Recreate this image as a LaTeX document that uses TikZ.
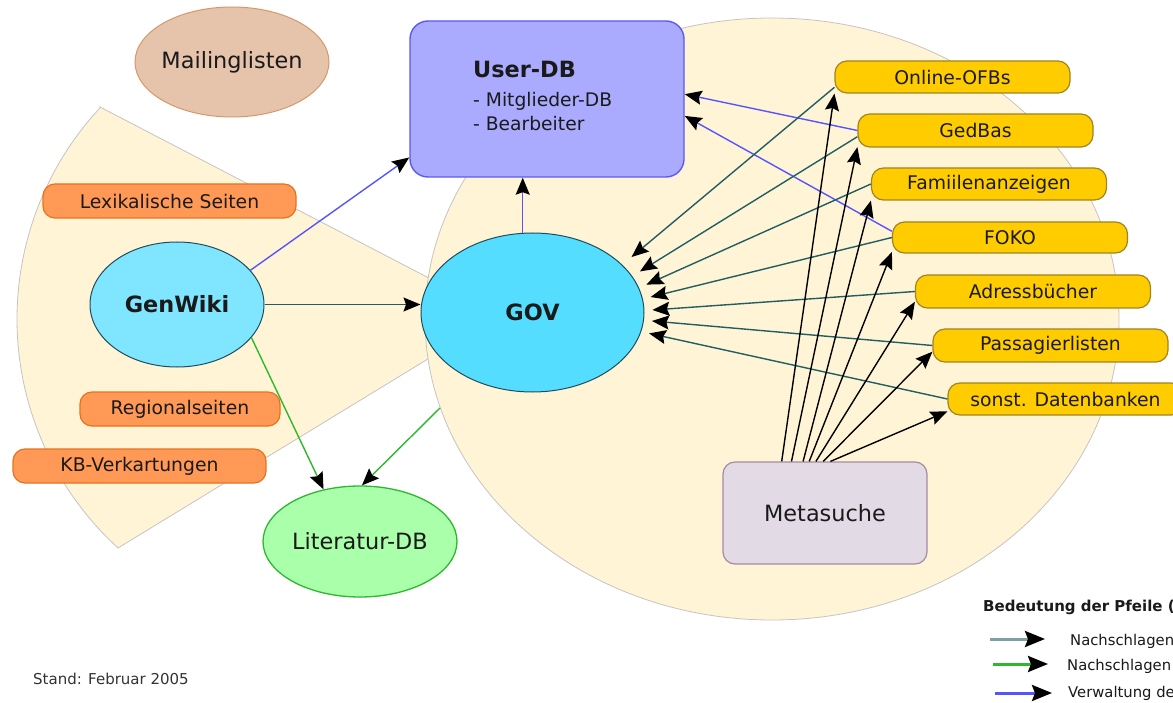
\documentclass[tikz,border=0pt]{standalone}
\usepackage{fontspec}
\setmainfont{DejaVu Sans}
\usetikzlibrary{shapes.geometric,arrows.meta,calc}
\definecolor{cream}{HTML}{FFF5D6}
\definecolor{bordgrey}{HTML}{C4C4C4}
\definecolor{txt}{HTML}{1A1A1A}
\definecolor{mailfill}{HTML}{E6C4AB}
\definecolor{mailbord}{HTML}{D8976A}
\definecolor{udfill}{HTML}{AAAAFF}
\definecolor{udbord}{HTML}{5A5AF5}
\definecolor{gwfill}{HTML}{80E5FF}
\definecolor{govfill}{HTML}{55DDFF}
\definecolor{cyanbord}{HTML}{1E4E5E}
\definecolor{litfill}{HTML}{AAFFAA}
\definecolor{litbord}{HTML}{2DB82D}
\definecolor{msfill}{HTML}{E2DAE4}
\definecolor{msbord}{HTML}{A58AA5}
\definecolor{orfill}{HTML}{FF9955}
\definecolor{orbord}{HTML}{E5731E}
\definecolor{yefill}{HTML}{FFCC00}
\definecolor{yebord}{HTML}{A08422}
\definecolor{tealc}{HTML}{215E63}
\definecolor{tealleg}{HTML}{7FA0A6}
\definecolor{greenc}{HTML}{2DB82D}
\definecolor{bluec}{HTML}{5555FF}
\begin{document}
\begin{tikzpicture}[x=1pt,y=-1pt,
  every node/.style={inner sep=0pt, text=txt},
  bigfont/.style={font=\fontsize{22.4pt}{26pt}\selectfont},
  boldfont/.style={font=\fontsize{22.4pt}{26pt}\selectfont\bfseries},
  pillfont/.style={font=\fontsize{18.8pt}{22pt}\selectfont},
  ell/.style={ellipse, inner xsep=-4pt, line width=1pt},
  orpill/.style={rectangle, rounded corners=12pt, fill=orfill, draw=orbord, line width=1.2pt, minimum height=34pt, pillfont},
  yepill/.style={rectangle, rounded corners=12pt, fill=yefill, draw=yebord, line width=1.2pt, minimum width=235pt, minimum height=32pt, pillfont},
  arr/.style={-{Stealth[length=17pt,width=14pt,inset=2.5pt,black]}, line width=1.4pt},
  legarr/.style={-{Stealth[length=20pt,width=16pt,inset=3pt,black]}, line width=3pt},
  legfont/.style={font=\fontsize{14.8pt}{17pt}\selectfont}
]
\useasboundingbox (0,0) rectangle (1173,703);
\fill[white] (0,0) rectangle (1173,703);
% left wedge
\filldraw[fill=cream, draw=bordgrey, line width=0.8pt]
  (100,107) -- (500,315) -- (118,548)
  -- plot[domain=132.4:223, samples=90] ({327+310*cos(\x)},{319+310*sin(\x)}) -- cycle;
% big domain ellipse
\node[ellipse, minimum width=694pt, minimum height=602pt, fill=cream, draw=bordgrey, line width=0.8pt] (dom) at (772,319) {};
% nodes
\node[ell, minimum width=194pt, minimum height=110pt, fill=mailfill, draw=mailbord, bigfont] (ml) at (232,62) {Mailinglisten};
\node[rectangle, rounded corners=18pt, minimum width=274pt, minimum height=156pt, fill=udfill, draw=udbord, line width=1.4pt] (ud) at (547,99) {};
\node[anchor=base west, boldfont] (udt) at (473,78) {User-DB};
\node[anchor=base west, font=\fontsize{18.7pt}{22pt}\selectfont] (udl1) at (473,107) {- Mitglieder-DB};
\node[anchor=base west, font=\fontsize{18.7pt}{22pt}\selectfont] (udl2) at (473,131) {- Bearbeiter};
\node[orpill, minimum width=253pt] (lex) at (169.5,201) {Lexikalische Seiten};
\node[orpill, minimum width=200pt] (reg) at (180,409) {Regionalseiten};
\node[orpill, minimum width=253pt] (kb) at (139.5,466) {KB-Verkartungen};
\node[ell, minimum width=174pt, minimum height=125pt, fill=gwfill, draw=cyanbord, boldfont] (gw) at (177,304.5) {GenWiki};
\node[ell, minimum width=223pt, minimum height=159pt, fill=govfill, draw=cyanbord, boldfont] (gov) at (532.5,312.5) {GOV};
\node[ell, minimum width=194pt, minimum height=111pt, fill=litfill, draw=litbord, line width=1.3pt, bigfont] (lit) at (360,541.5) {Literatur-DB};
\node[rectangle, rounded corners=12pt, minimum width=204pt, minimum height=102pt, fill=msfill, draw=msbord, line width=1.2pt, bigfont] (ms) at (825,513) {Metasuche};
\node[yepill] (oo) at (952.5,77) {Online-OFBs};
\node[yepill, minimum height=33pt] (gb) at (975.5,130.5) {GedBas};
\node[yepill] (fa) at (989,184) {Famiilenanzeigen};
\node[yepill, minimum height=31pt] (fk) at (1010,237.5) {FOKO};
\node[yepill, minimum height=33pt] (ab) at (1033,291.5) {Adressbücher};
\node[yepill, minimum height=33pt] (pl) at (1050.5,345.5) {Passagierlisten};
\node[yepill] (sd) at (1065.5,399) {sonst. Datenbanken};
% blue connectors
\draw[arr, bluec] (gw.25) -- (ud.203.3);
\draw[arr, bluec] (gov.97) -- (gov.97 |- ud.south);
\draw[arr, bluec] (gb.west) -- (ud.2);
\draw[arr, bluec] (fk.177) -- (ud.-7);
% teal connectors
\draw[arr, tealc] (gw.east) -- (gw.east -| gov.west);
\draw[arr, tealc, shorten >=12pt] (oo.185) -- (gov.28);
\draw[arr, tealc, shorten >=9pt] (gb.183) -- (gov.20);
\draw[arr, tealc, shorten >=8pt] (fa.west) -- (gov.13);
\draw[arr, tealc, shorten >=8pt] (fk.west) -- (gov.7);
\draw[arr, tealc, shorten >=8pt] (ab.west) -- (gov.1);
\draw[arr, tealc, shorten >=8pt] (pl.west) -- (gov.-4);
\draw[arr, tealc, shorten >=8pt] (sd.west) -- (gov.-10);
% green connectors
\draw[arr, greenc] (gw.-24) -- (lit.125.7);
\draw[arr, greenc] (dom.195) -- (lit.88);
% black connectors from Metasuche
\draw[arr, black] (ms.130) -- (oo.188);
\draw[arr, black] (ms.123) -- (gb.188.3);
\draw[arr, black] (ms.113) -- (fa.188);
\draw[arr, black] (ms.107) -- (fk.187);
\draw[arr, black] (ms.100) -- (ab.185.6);
\draw[arr, black] (ms.92) -- (pl.183.6);
\draw[arr, black] (ms.84) -- (sd.186.3);
% footer
\node[anchor=west, font=\fontsize{15pt}{18pt}\selectfont, text=black!80] (stand) at (33,679) {Stand: Februar 2005};
% legend
\node[anchor=base west, font=\fontsize{15pt}{18pt}\selectfont\bfseries] (legt) at (983,611) {Bedeutung der Pfeile (};
\coordinate (l1s) at (990,639); \coordinate (l1e) at (1045,639);
\coordinate (l2s) at (993,664); \coordinate (l2e) at (1048,664);
\coordinate (l3s) at (995,693); \coordinate (l3e) at (1052,693);
\draw[legarr, tealleg] (l1s) -- (l1e);
\draw[legarr, greenc] (l2s) -- (l2e);
\draw[legarr, bluec] (l3s) -- (l3e);
\node[anchor=base west, legfont] (leg1) at (1070,645) {Nachschlagen};
\node[anchor=base west, legfont] (leg2) at (1067,670) {Nachschlagen};
\node[anchor=base west, legfont] (leg3) at (1068,697) {Verwaltung der};
\end{tikzpicture}
\end{document}
